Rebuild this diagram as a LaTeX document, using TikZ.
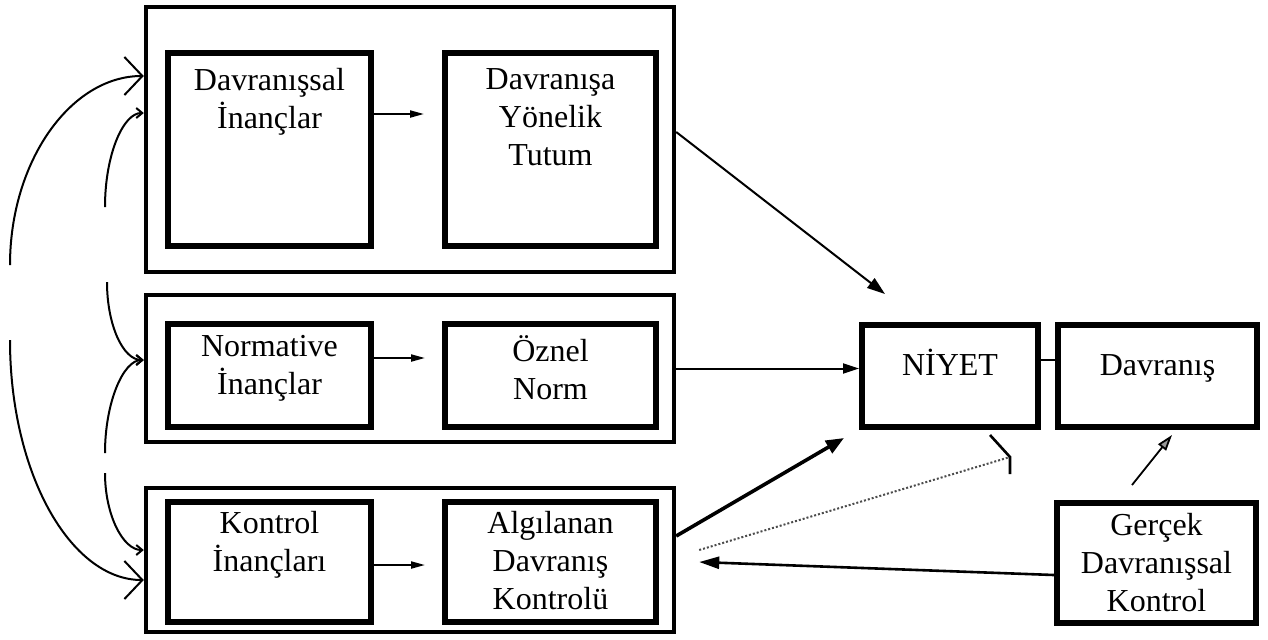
\documentclass[tikz,border=0pt]{standalone}
\usepackage{fontspec}
\setmainfont{Liberation Serif}
\usetikzlibrary{arrows.meta}
\tikzset{
  outerbox/.style={draw, line width=2.2pt, inner sep=0pt, minimum width=264pt},
  innerbox/.style={draw, line width=3pt, inner sep=0pt, align=center},
  mainbox/.style={draw, line width=3pt, inner sep=0pt, align=center},
  toptext/.style={align=center, anchor=north, inner sep=0pt, label distance=0pt},
  midtext/.style={text height=6pt, text depth=7pt},
  smallarrow/.style={line width=1pt, -{Triangle[length=7pt,width=3.5pt]}},
  bigarc/.style={line width=1pt, -{Straight Barb[length=9pt,width=19pt]}},
  smallarc/.style={line width=1pt, -{Straight Barb[length=3pt,width=5pt]}}
}
\begin{document}
\begin{tikzpicture}[x=0.5pt, y=-0.5pt, font=\fontsize{16}{19}\selectfont]
  \useasboundingbox (0,0) rectangle (1268,639);
  \node[outerbox, minimum height=132.5pt] (tbox) at (410,139.5) {};
  \node[innerbox, minimum width=101.5pt, minimum height=96.5pt,
        label={[toptext, yshift=-9pt]north:Davranışsal\\İnançlar}] (dbel) at (269.5,149.5) {};
  \node[innerbox, minimum width=105.5pt, minimum height=96.5pt,
        label={[toptext, yshift=-9pt]north:Davranışa\\Yönelik\\Tutum}] (tutum) at (550.5,149.5) {};
  \node[outerbox, minimum height=73.5pt] (nbox) at (410,368.5) {};
  \node[innerbox, minimum width=101.5pt, minimum height=51.5pt,
        label={[toptext, yshift=-7pt]north:Normative\\İnançlar}] (nbel) at (269.5,375.5) {};
  \node[innerbox, minimum width=105.5pt, minimum height=51.5pt,
        label={[toptext, yshift=-7pt]north:Öznel\\Norm}] (oznel) at (550.5,375.5) {};
  \node[outerbox, minimum height=72pt] (cbox) at (410,560) {};
  \node[innerbox, minimum width=101.5pt, minimum height=60pt,
        label={[toptext, yshift=-6pt]north:Kontrol\\İnançları}] (kbel) at (269.5,562) {};
  \node[innerbox, minimum width=105.5pt, minimum height=60pt,
        label={[toptext, yshift=-6pt]north:Algılanan\\Davranış\\Kontrolü}] (adk) at (550.5,562) {};
  \node[mainbox, midtext, minimum width=88pt, minimum height=51pt] (niyet) at (950,376) {NİYET};
  \node[mainbox, midtext, minimum width=99.5pt, minimum height=51pt] (davr) at (1157.5,376) {Davranış};
  \node[mainbox, minimum width=99.5pt, minimum height=60pt] (gercek) at (1156.5,563) {Gerçek\\Davranışsal\\Kontrol};
  \coordinate (hook) at (1010,457);
  \coordinate (atop) at (10,265);
  \coordinate (abot) at (10,340);
  \coordinate (b1) at (105,207);
  \coordinate (b2) at (107,282);
  \coordinate (b3) at (105,453);
  \coordinate (b4) at (105,473);
  \begin{scope}
    \draw[smallarrow] ([yshift=17.75pt]dbel.east) -- ([xshift=-9pt,yshift=17.75pt]tutum.west);
    \draw[smallarrow] ([yshift=8.75pt]nbel.east) -- ([xshift=-8.5pt,yshift=8.75pt]oznel.west);
    \draw[smallarrow] ([yshift=-1.5pt]kbel.east) -- ([xshift=-8.5pt,yshift=-1.5pt]adk.west);
    \draw[line width=1pt, -{Triangle[length=9pt,width=6pt]}] ([yshift=3.75pt]tbox.east) -- ([xshift=13pt,yshift=14pt]niyet.north west);
    \draw[line width=1pt, -{Triangle[length=8pt,width=5pt]}] (nbox.east) -- (nbox.east -| niyet.west);
    \draw[line width=1.8pt, -{Triangle[length=9pt,width=7pt]}] ([yshift=12pt]cbox.east) -- ([xshift=-7.5pt,yshift=-4pt]niyet.south west);
    \draw[line width=1.3pt, -{Triangle[length=10pt,width=6pt]}] ([yshift=-6pt]gercek.west) -- ([xshift=11.5pt,yshift=-1pt]cbox.east);
    \draw[black!70, line width=1pt, densely dotted] ([xshift=11.5pt,yshift=5pt]cbox.east) -- (hook);
    \draw[line width=1.3pt] ([xshift=-25.5pt,yshift=-2.5pt]niyet.south east) -- (hook) -- ++(0,17);
    \draw[line width=0.9pt, -{Triangle[length=8pt,width=5pt,fill=black!40]}] ([xshift=-12.25pt,yshift=7.5pt]gercek.north) -- ([xshift=7.25pt,yshift=-2.5pt]davr.south);
    \draw[line width=1pt] ([yshift=8pt]niyet.east) -- ([yshift=8pt]davr.west);
  \end{scope}
  \begin{scope}
    \draw[bigarc] (atop) .. controls (10,161) and (71,76) .. ([yshift=31.75pt]tbox.west);
    \draw[bigarc] (abot) .. controls (10,474) and (71,580) .. ([yshift=-10pt]cbox.west);
    \draw[smallarc] (b1) .. controls (105,155) and (123,113) .. ([yshift=13.25pt]tbox.west);
    \draw[smallarc] (b2) .. controls (107,325) and (123,360) .. ([yshift=4.25pt]nbox.west);
    \draw[smallarc] (b3) .. controls (105,403) and (123,360) .. ([yshift=4.25pt]nbox.west);
    \draw[smallarc] (b4) .. controls (105,515) and (123,550) .. ([yshift=5pt]cbox.west);
  \end{scope}
\end{tikzpicture}
\end{document}
